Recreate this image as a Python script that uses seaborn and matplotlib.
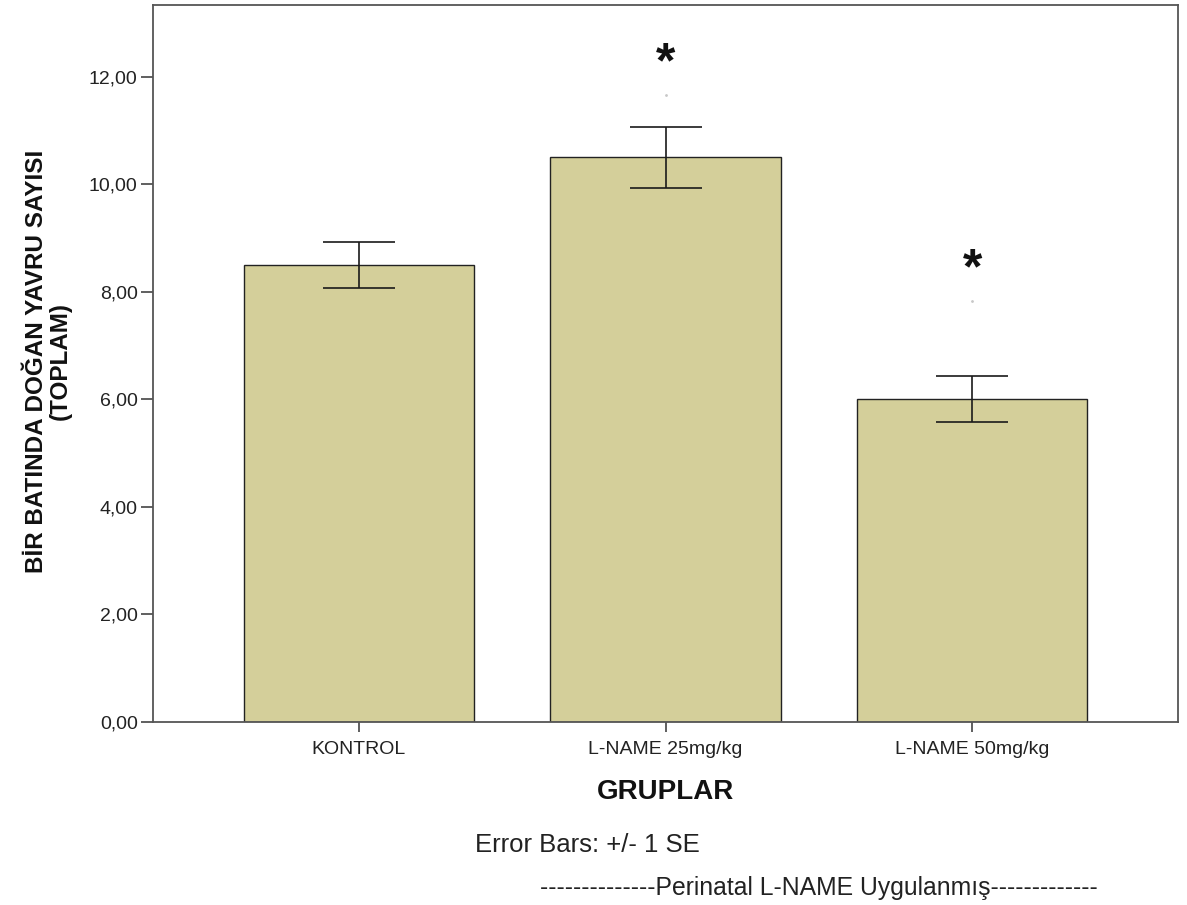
import numpy as np
import pandas as pd
import matplotlib
matplotlib.use("Agg")
import matplotlib.pyplot as plt
import seaborn as sns

# Group means and standard errors (litter size, total)
groups = ["KONTROL", "L-NAME 25mg/kg", "L-NAME 50mg/kg"]
means = [8.50, 10.50, 6.00]
std_err = [0.43, 0.57, 0.43]
significant = [False, True, True]
y_ticks = [0, 2, 4, 6, 8, 10, 12]

sns.set_theme(style="white")
plt.rcParams["font.family"] = ["Liberation Sans", "DejaVu Sans"]

W, H = 1187, 905
fig = plt.figure(figsize=(W / 100, H / 100), dpi=100)
ax = fig.add_axes([153 / W, 1 - 721.7 / H, (1178 - 153) / W, (721.7 - 5) / H])

df = pd.DataFrame({"grup": groups, "ortalama": means})
sns.barplot(data=df, x="grup", y="ortalama", color="#D4CF9A", saturation=1,
            width=0.75, edgecolor="#222222", linewidth=1.0, errorbar=None, ax=ax)

xpos = np.arange(len(groups))
ax.errorbar(xpos, means, yerr=std_err, fmt="none", ecolor="#1a1a1a",
            elinewidth=1.2, capsize=26, capthick=1.2, zorder=5)

# significance markers above the treated groups
star_y = {1: 12.23, 2: 8.40}
dot_y = {1: 11.65, 2: 7.82}
for i, sig in enumerate(significant):
    if sig:
        ax.text(xpos[i], star_y[i], "*", ha="center", va="center",
                fontsize=36, fontweight="bold", color="#111111")
        ax.plot(xpos[i], dot_y[i], marker=".", ms=2, color="#c8c8c8")

ax.set_xlim(-0.67, 2.67)
ax.set_ylim(0, 13.33)
ax.set_yticks(y_ticks)
ax.set_yticklabels([f"{v:.2f}".replace(".", ",") for v in y_ticks])

for s in ax.spines.values():
    s.set_visible(True)
    s.set_color("#555555")
    s.set_linewidth(1.3)

ax.tick_params(axis="y", direction="out", length=9, width=1.2, color="#444444",
               labelsize=14, labelcolor="#222222", pad=2, left=True)
ax.tick_params(axis="x", direction="out", length=7, width=1.2, color="#444444",
               labelsize=14, labelcolor="#222222", pad=7, bottom=True)

ax.set_xlabel("GRUPLAR", fontsize=20, fontweight="bold", color="#111111")
ax.xaxis.set_label_coords(0.5, -0.080)
ax.set_ylabel("")

# two-line vertical axis title
fig.text(37 / W, 1 - 361 / H, "BİR BATINDA DOĞAN YAVRU SAYISI", rotation=90,
         ha="center", va="center", fontsize=17.5, fontweight="bold", color="#111111")
fig.text(60 / W, 1 - 361 / H, "(TOPLAM)", rotation=90,
         ha="center", va="center", fontsize=17.5, fontweight="bold", color="#111111")

fig.text(475 / W, 1 - 845 / H, "Error Bars: +/- 1 SE", ha="left", va="center",
         fontsize=18.5, color="#222222")
fig.text(540 / W, 1 - 888 / H, "-" * 14 + "Perinatal L-NAME Uygulanmış" + "-" * 13,
         ha="left", va="center", fontsize=17.8, color="#222222")

fig.savefig("out.png", dpi=100)
